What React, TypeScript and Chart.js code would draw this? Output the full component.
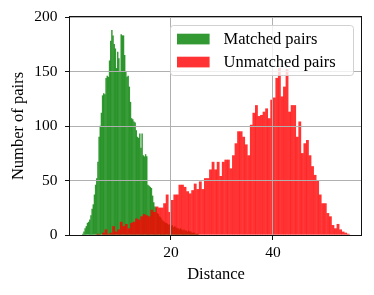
import React, { useEffect, useRef } from "react";
import { Chart, registerables } from "chart.js";

Chart.register(...registerables);

// Histogram bins (counts)
const matchedStart = 2.6;
const matchedBinWidth = 0.228;
const matchedCounts = [
  1, 3, 6, 8, 11, 12, 14, 18, 24, 28,
  37, 46, 52, 67, 90, 100, 112, 128, 130, 129,
  144, 146, 145, 160, 178, 188, 183, 175, 171, 153,
  168, 162, 150, 184, 183, 183, 165, 150, 145, 146,
  136, 122, 107, 106, 104, 103, 96, 90, 89, 93,
  80, 93, 73, 72, 74, 72, 46, 45, 44, 43,
  36, 30, 26, 25, 20, 19, 17, 16, 14, 13,
  12, 11, 11, 10, 9, 10, 8, 9, 7, 8,
  7, 6, 6, 5, 6, 5, 4, 5, 4, 4,
  3, 4, 3, 3, 2, 2, 2, 1, 1, 1,
];

const unmatchedStart = 5.0;
const unmatchedBinWidth = 0.5;
const unmatchedCounts = [
  0, 1, 0, 2, 5, 1, 2, 8, 3, 5,
  12, 8, 10, 6, 11, 12, 15, 14, 17, 19,
  18, 17, 23, 21, 26, 25, 25, 29, 37, 21,
  32, 37, 37, 46, 46, 44, 40, 38, 41, 47,
  42, 49, 42, 52, 52, 60, 67, 60, 67, 54,
  67, 69, 69, 61, 73, 84, 95, 95, 90, 83,
  73, 101, 112, 119, 109, 110, 113, 116, 107, 124,
  126, 144, 153, 127, 136, 152, 113, 119, 119, 90,
  104, 75, 84, 87, 73, 63, 55, 50, 37, 29,
  29, 20, 17, 9, 6, 10, 5, 3, 2, 1,
];

const seriesLabels = ["Matched pairs", "Unmatched pairs"];
const seriesColors = ["rgba(0,128,0,0.8)", "rgba(255,0,0,0.8)"];
const xTicks = [20, 40];
const yTicks = [0, 50, 100, 150, 200];
const xLimits = [0.2, 57.45];
const yLimits = [0, 200];
const xTitle = "Distance";
const yTitle = "Number of pairs";

const FONT = "'Liberation Serif', 'Times New Roman', serif";

const frameAndLegend = {
  id: "frameAndLegend",
  afterDraw(chart: any) {
    const { ctx, chartArea: a } = chart;
    ctx.save();
    // spines
    ctx.strokeStyle = "#111";
    ctx.lineWidth = 1;
    const l = Math.round(a.left) - 0.5;
    const t = Math.round(a.top) - 0.5;
    const r = Math.round(a.right) - 0.5;
    const b = Math.round(a.bottom) + 0.5;
    ctx.strokeRect(l, t, r - l, b - t);

    // legend
    const boxW = 183;
    const boxH = 50;
    const bx = Math.round(a.right - 9 - boxW) + 0.5;
    const by = Math.round(a.top + 8) + 0.5;
    ctx.beginPath();
    if ((ctx as any).roundRect) ctx.roundRect(bx, by, boxW, boxH, 3);
    else ctx.rect(bx, by, boxW, boxH);
    ctx.fillStyle = "rgba(255,255,255,0.8)";
    ctx.fill();
    ctx.strokeStyle = "rgba(204,204,204,0.9)";
    ctx.lineWidth = 1;
    ctx.stroke();

    chart.data.datasets.forEach((ds: any, k: number) => {
      const cy = by + 13.5 + k * 23;
      ctx.fillStyle = ds.backgroundColor;
      ctx.fillRect(bx + 6.5, cy - 5.3, 32.6, 10.7);
      ctx.fillStyle = "#000";
      ctx.font = `16.5px ${FONT}`;
      ctx.textBaseline = "middle";
      ctx.textAlign = "left";
      ctx.fillText(ds.label, bx + 53, cy + 0.5);
    });
    ctx.restore();
  },
};

export default function App() {
  const ref = useRef<HTMLCanvasElement | null>(null);

  useEffect(() => {
    if (!ref.current) return;
    const matchedData = matchedCounts.map((c, i) => ({
      x: matchedStart + matchedBinWidth * (i + 0.5),
      y: c,
    }));
    const unmatchedData = unmatchedCounts.map((c, i) => ({
      x: unmatchedStart + unmatchedBinWidth * (i + 0.5),
      y: c,
    }));
    const barStyle = {
      barPercentage: 1,
      categoryPercentage: 1,
      grouped: false,
      borderWidth: 0,
      inflateAmount: 0.15,
    };
    const tickFont = { family: FONT, size: 15.5 };
    const titleFont = { family: FONT, size: 16.5 };

    const chart = new Chart(ref.current, {
      type: "bar",
      data: {
        datasets: [
          {
            label: seriesLabels[0],
            data: matchedData as any,
            xAxisID: "x",
            backgroundColor: seriesColors[0],
            order: 1,
            ...barStyle,
          } as any,
          {
            label: seriesLabels[1],
            data: unmatchedData as any,
            xAxisID: "x2",
            backgroundColor: seriesColors[1],
            order: 0,
            ...barStyle,
          } as any,
        ],
      },
      options: {
        responsive: false,
        animation: false,
        layout: { padding: { left: 0, right: 12, top: 17, bottom: 0 } },
        plugins: {
          legend: { display: false },
          tooltip: { enabled: false },
        },
        scales: {
          x: {
            type: "linear",
            position: "bottom",
            min: xLimits[0],
            max: xLimits[1],
            offset: false,
            grid: {
              offset: false,
              color: "#b0b0b0",
              lineWidth: 1,
              z: 1,
              drawTicks: true,
              tickLength: 5,
              tickColor: "#111",
              tickWidth: 1,
            },
            border: { display: false },
            ticks: {
              font: tickFont,
              color: "#000",
              padding: 3.5,
              maxRotation: 0,
              autoSkip: false,
            },
            title: {
              display: true,
              text: xTitle,
              font: titleFont,
              color: "#000",
              padding: { top: 0, bottom: 10 },
            },
            afterBuildTicks: (s: any) => {
              s.ticks = xTicks.map((v) => ({ value: v }));
            },
            afterFit: (s: any) => {
              s.height = 60;
            },
          } as any,
          x2: {
            type: "linear",
            position: "bottom",
            min: xLimits[0],
            max: xLimits[1],
            display: false,
            offset: false,
            grid: { offset: false },
            afterBuildTicks: (s: any) => {
              s.ticks = xTicks.map((v) => ({ value: v }));
            },
          } as any,
          y: {
            type: "linear",
            min: yLimits[0],
            max: yLimits[1],
            grid: {
              color: "#b0b0b0",
              lineWidth: 1,
              z: 1,
              drawTicks: true,
              tickLength: 5,
              tickColor: "#111",
              tickWidth: 1,
            },
            border: { display: false },
            ticks: {
              font: tickFont,
              color: "#000",
              padding: 7.5,
              autoSkip: false,
            },
            title: {
              display: true,
              text: yTitle,
              font: titleFont,
              color: "#000",
              padding: { top: 8.4, bottom: 0 },
            },
            afterBuildTicks: (s: any) => {
              s.ticks = yTicks.map((v) => ({ value: v }));
            },
            afterFit: (s: any) => {
              s.width = 70;
            },
          } as any,
        },
      },
      plugins: [frameAndLegend],
    });
    return () => chart.destroy();
  }, []);

  return (
    <div
      style={{
        position: "fixed",
        left: 0,
        top: 0,
        width: 374,
        height: 295,
        background: "#fff",
      }}
    >
      <canvas ref={ref} width={374} height={295} style={{ display: "block" }} />
    </div>
  );
}
